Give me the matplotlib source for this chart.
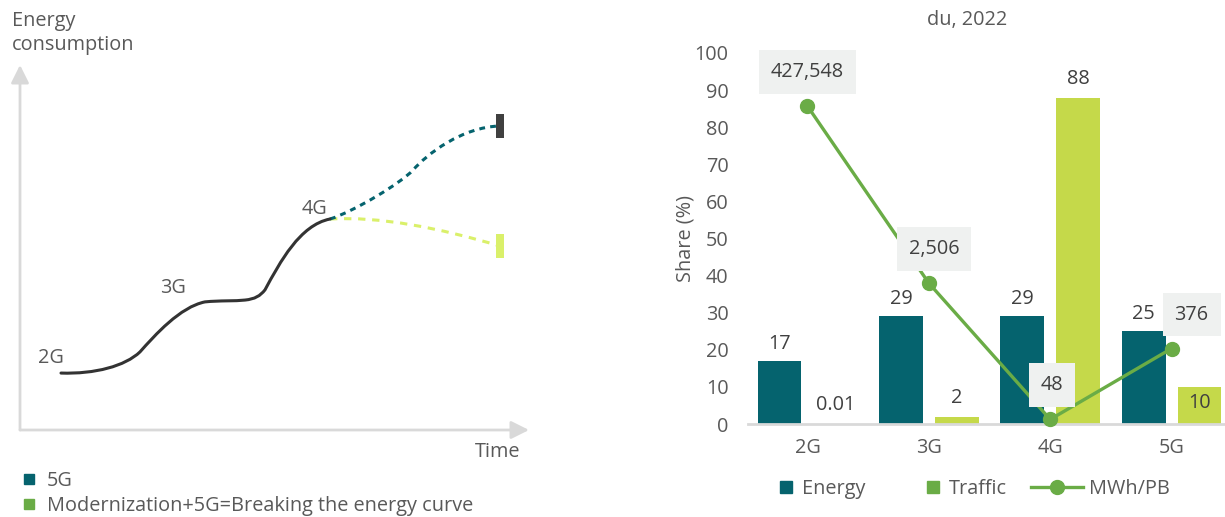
import matplotlib
matplotlib.use("Agg")
import matplotlib.pyplot as plt
from matplotlib.path import Path
from matplotlib.patches import PathPatch
from matplotlib.lines import Line2D

plt.rcParams['font.family'] = ['Open Sans', 'DejaVu Sans']

# ---------------- data ----------------
generations = ['2G', '3G', '4G', '5G']
energy_share = [17, 29, 29, 25]          # share of energy (%)
traffic_share = [0.01, 2, 88, 10]        # share of traffic (%)
mwh_per_pb = [427548, 2506, 48, 376]     # energy intensity
energy_labels = ['17', '29', '29', '25']
traffic_labels = ['0.01', '2', '88', '10']
mwh_labels = ['427,548', '2,506', '48', '376']

# schematic energy curve (time, energy), cubic Bezier vertices
legacy_x = [8.2, 15, 21, 24, 27, 32, 37, 40, 43, 45, 47, 48, 49, 52, 56, 62]
legacy_y = [15.6, 15.3, 17.5, 21.4, 26.0, 33.7, 35.1, 35.5, 35.3, 35.6,
            35.9, 36.7, 38.4, 46.0, 56.2, 57.8]
fiveg_x = [62, 67, 76.2, 78.6, 81.4, 88.4, 96]
fiveg_y = [57.8, 60.0, 67.7, 71.2, 75.6, 83.0, 83.3]
modern_x = [62, 72, 84, 96]
modern_y = [57.8, 58.6, 55.3, 50.4]
curve_labels = ['2G', '3G', '4G']

# ---------------- style ----------------
TEAL = '#05636e'
LIME = '#c5d94a'
GREEN = '#6aac46'
PALE_LIME = '#daf06a'
DARK = '#404040'
TEXT = '#595959'
AXIS_GREY = '#d9d9d9'
BOX = '#eff1f0'
FS = 14.3

W, H = 1225, 517
fig = plt.figure(figsize=(W / 100, H / 100), dpi=100)


def fx(px):
    return px / W


def fy(py):
    return 1 - py / H


# ================= left: schematic =================
axl = fig.add_axes([fx(20), fy(430), 500 / W, 365 / H])
axl.set_xlim(0, 100)
axl.set_ylim(0, 100)
axl.axis('off')

arrow = dict(arrowstyle='-|>,head_length=0.9,head_width=0.45', color=AXIS_GREY,
             lw=2, shrinkA=0, shrinkB=0, mutation_scale=12)
axl.annotate('', xy=(0, 100), xytext=(0, 0), arrowprops=arrow, annotation_clip=False)
axl.annotate('', xy=(101.8, 0), xytext=(0, 0), arrowprops=arrow, annotation_clip=False)


def bezier(xs, ys):
    verts = list(zip(xs, ys))
    codes = [Path.MOVETO] + [Path.CURVE4] * (len(verts) - 1)
    return Path(verts, codes)


axl.add_patch(PathPatch(bezier(modern_x, modern_y), fill=False, ec=PALE_LIME,
                        lw=2.2, ls=(0, (2.4, 2.2)), capstyle='butt', zorder=2))
axl.add_patch(PathPatch(bezier(fiveg_x, fiveg_y), fill=False, ec=TEAL,
                        lw=2.2, ls=(0, (1.9, 1.7)), capstyle='butt', zorder=3))
axl.add_patch(PathPatch(bezier(legacy_x, legacy_y), fill=False, ec='#333333',
                        lw=2.2, capstyle='round', zorder=4))

end_marker = [(-0.19, -0.5), (0.19, -0.5), (0.19, 0.5), (-0.19, 0.5), (-0.19, -0.5)]
axl.plot([fiveg_x[-1]], [fiveg_y[-1]], marker=end_marker, ms=17, color=DARK,
         mew=0, ls='none', zorder=5, clip_on=False)
axl.plot([modern_x[-1]], [modern_y[-1]], marker=end_marker, ms=17, color=PALE_LIME,
         mew=0, ls='none', zorder=5, clip_on=False)

label_anchor = [(legacy_x[0], legacy_y[0]), (legacy_x[6], legacy_y[6]),
                (legacy_x[-1], legacy_y[-1])]
label_offsets = [(-10, 15), (-32, 14), (-15, 10)]
for txt, (ax_, ay_), off in zip(curve_labels, label_anchor, label_offsets):
    axl.annotate(txt, (ax_, ay_), xytext=off, textcoords='offset pixels',
                 ha='center', va='center', fontsize=FS, color=TEXT)

fig.text(fx(12), fy(33), 'Energy\nconsumption', ha='left', va='center',
         fontsize=FS, color=TEXT, linespacing=1.25)
fig.text(fx(520), fy(452), 'Time', ha='right', va='center', fontsize=FS, color=TEXT)

left_handles = [Line2D([], [], marker='s', ls='none', color=TEAL, ms=7.5),
                Line2D([], [], marker='s', ls='none', color=GREEN, ms=7.5)]
fig.legend(left_handles, ['5G', 'Modernization+5G=Breaking the energy curve'],
           loc='upper left', bbox_to_anchor=(fx(22), fy(471)), frameon=False,
           handlelength=0.75, handletextpad=0.5, labelspacing=0.25,
           borderpad=0, borderaxespad=0, fontsize=FS, labelcolor=TEXT)

# ================= right: du, 2022 =================
axr = fig.add_axes([fx(748), fy(424), (W - 748) / W, 371 / H])
x = list(range(len(generations)))
bw, off = 0.36, 0.23
axr.bar([i - off for i in x], energy_share, width=bw, color=TEAL, zorder=2)
axr.bar([i + off for i in x], traffic_share, width=bw, color=LIME, zorder=2)
axr.set_xlim(-0.49, 3.44)
axr.set_ylim(0, 100)
axr.set_yticks(range(0, 101, 10))
axr.set_xticks(x)
axr.set_xticklabels(generations)
axr.tick_params(axis='both', length=0, labelsize=FS, labelcolor=TEXT)
axr.tick_params(axis='y', pad=14)
axr.tick_params(axis='x', pad=10)
for s in ['top', 'right', 'left']:
    axr.spines[s].set_visible(False)
axr.spines['bottom'].set_color(AXIS_GREY)
axr.spines['bottom'].set_linewidth(2)
axr.spines['bottom'].set_zorder(3)
axr.set_ylabel('Share (%)', fontsize=FS, color=TEXT, labelpad=-1)
axr.set_title('du, 2022', fontsize=FS, color=TEXT, pad=20, x=0.46)

for i, (v, t) in enumerate(zip(energy_share, energy_labels)):
    axr.annotate(t, (i - off, v), xytext=(0, 17), textcoords='offset pixels',
                 ha='center', va='center', fontsize=FS, color=DARK, zorder=4)
traffic_inside = [False, False, False, True]
for i, (v, t, inside) in enumerate(zip(traffic_share, traffic_labels, traffic_inside)):
    axr.annotate(t, (i + off, v), xytext=(0, -16 if inside else 19),
                 textcoords='offset pixels', ha='center', va='center',
                 fontsize=FS, color=DARK, zorder=4)

# energy intensity on its own log axis
axm = axr.twinx()
axm.set_yscale('log')
axm.set_ylim(42, 2.0e6)
axm.axis('off')
axm.plot(x, mwh_per_pb, color=GREEN, lw=2.4, marker='o', ms=10, zorder=5,
         clip_on=False)
box_offsets = [(0, 34), (5, 34), (2, 34), (20, 34)]
for i, (v, t, o) in enumerate(zip(mwh_per_pb, mwh_labels, box_offsets)):
    axm.annotate(t, (i, v), xytext=o, textcoords='offset pixels',
                 ha='center', va='center', fontsize=FS, color=DARK, zorder=6,
                 bbox=dict(boxstyle='square,pad=0.6', fc=BOX, ec='none'))

sq_handles = [Line2D([], [], marker='s', ls='none', color=TEAL, ms=8),
              Line2D([], [], marker='s', ls='none', color=GREEN, ms=8)]
fig.legend(sq_handles, ['Energy', 'Traffic'], loc='center left', ncol=2,
           bbox_to_anchor=(fx(778), fy(489)), frameon=False, handlelength=0.8,
           handletextpad=0.4, columnspacing=3.0, borderpad=0, borderaxespad=0,
           fontsize=FS, labelcolor=TEXT)
line_handle = [Line2D([], [], color=GREEN, lw=2.4, marker='o', ms=10)]
fig.legend(line_handle, ['MWh/PB'], loc='center left',
           bbox_to_anchor=(fx(1031), fy(489)), frameon=False, handlelength=2.6,
           handletextpad=0.3, borderpad=0, borderaxespad=0, fontsize=FS,
           labelcolor=TEXT)

fig.savefig('out.png', dpi=100, facecolor='white')
